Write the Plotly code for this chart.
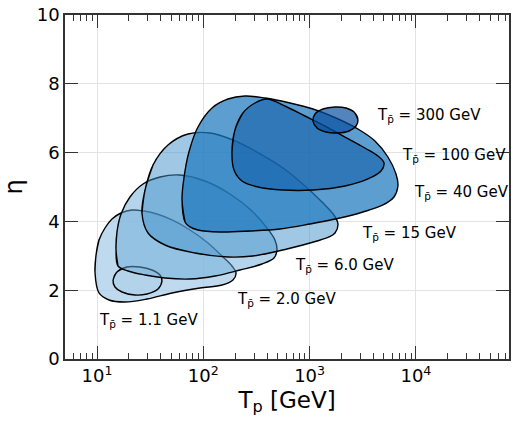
import math
import plotly.graph_objects as go

# ---- contour outlines: log10(T_p / GeV) and eta ----
labels = ["1.1", "2.0", "6.0", "15", "40", "100", "300"]

logT_1p1 = [1.151, 1.188, 1.282, 1.404, 1.517, 1.593, 1.611, 1.574, 1.470, 1.357, 1.235, 1.169]
eta_1p1 = [2.297, 2.529, 2.674, 2.674, 2.587, 2.442, 2.267, 2.035, 1.890, 1.860, 1.948, 2.093]

logT_2 = [0.981, 0.991, 1.019, 1.075, 1.141, 1.226, 1.329, 1.442, 1.564, 1.706, 1.875, 2.044,
          2.176, 2.270, 2.308, 2.279, 2.176, 1.969, 1.706, 1.470, 1.263, 1.113, 1.019]
eta_2 = [2.529, 3.023, 3.459, 3.808, 4.070, 4.244, 4.331, 4.302, 4.215, 4.041, 3.750, 3.372,
         2.994, 2.703, 2.500, 2.297, 2.151, 2.064, 1.919, 1.744, 1.657, 1.715, 1.919]

logT_6 = [1.198, 1.179, 1.188, 1.226, 1.310, 1.433, 1.593, 1.781, 2.016, 2.251, 2.458, 2.599,
          2.674, 2.693, 2.665, 2.552, 2.345, 2.110, 1.875, 1.640, 1.452, 1.292]
eta_6 = [2.703, 3.169, 3.692, 4.215, 4.709, 5.087, 5.291, 5.349, 5.174, 4.797, 4.302, 3.808,
         3.459, 3.169, 2.936, 2.762, 2.587, 2.413, 2.326, 2.355, 2.442, 2.558]

logT_15 = [1.423, 1.452, 1.527, 1.668, 1.856, 2.063, 2.279, 2.505, 2.750, 2.957, 3.117, 3.229,
           3.267, 3.239, 3.182, 3.070, 2.787, 2.467, 2.232, 1.922, 1.640, 1.480]
eta_15 = [4.244, 4.913, 5.640, 6.221, 6.541, 6.570, 6.366, 6.017, 5.552, 5.029, 4.564, 4.186,
          3.924, 3.663, 3.547, 3.430, 3.198, 2.994, 2.965, 3.081, 3.314, 3.663]

logT_40 = [1.828, 1.800, 1.818, 1.865, 1.950, 2.082, 2.232, 2.392, 2.580, 2.816, 3.032, 3.248,
           3.455, 3.615, 3.737, 3.813, 3.831, 3.794, 3.690, 3.502, 3.286, 3.004, 2.721, 2.439,
           2.157, 1.950, 1.870]
eta_40 = [3.983, 4.622, 5.262, 6.017, 6.744, 7.297, 7.558, 7.645, 7.587, 7.442, 7.267, 7.006,
          6.686, 6.337, 5.872, 5.378, 5.029, 4.709, 4.477, 4.273, 4.099, 3.924, 3.779, 3.721,
          3.692, 3.750, 3.850]

logT_100 = [2.270, 2.298, 2.373, 2.486, 2.599, 2.768, 2.957, 3.145, 3.333, 3.521, 3.643, 3.700,
            3.672, 3.549, 3.333, 3.032, 2.750, 2.515, 2.364, 2.289]
eta_100 = [6.017, 6.657, 7.151, 7.442, 7.558, 7.355, 7.064, 6.773, 6.453, 6.134, 5.901, 5.698,
           5.465, 5.233, 5.029, 4.913, 4.913, 5.000, 5.174, 5.494]

logT_300 = [3.455, 3.418, 3.342, 3.239, 3.126, 3.051, 3.032, 3.070, 3.154, 3.258, 3.371, 3.437]
eta_300 = [6.948, 7.180, 7.297, 7.326, 7.267, 7.122, 6.919, 6.715, 6.599, 6.570, 6.628, 6.773]

# label anchor positions (T_p in GeV, eta)
label_T = [10.0, 199, 698, 2980, 9190, 7080, 4120]
label_eta = [1.13, 1.72, 2.73, 3.66, 4.83, 5.93, 7.09]

fills = ["rgba(170,205,232,0.55)", "rgba(170,206,232,0.75)", "rgba(105,170,215,0.5)",
         "rgba(65,145,202,0.5)", "rgba(30,120,190,0.72)", "rgba(20,95,170,0.6)",
         "rgba(10,80,160,0.7)"]

contours = [(logT_2, eta_2, 1), (logT_1p1, eta_1p1, 0), (logT_6, eta_6, 2),
            (logT_15, eta_15, 3), (logT_40, eta_40, 4), (logT_100, eta_100, 5),
            (logT_300, eta_300, 6)]

fig = go.Figure()
for lt, et, k in contours:
    xs = [10 ** v for v in lt]
    xs = xs + xs[:3]
    ys = list(et) + list(et[:3])
    fig.add_trace(go.Scatter(x=xs, y=ys, mode="lines", fill="toself",
                             fillcolor=fills[k],
                             line=dict(color="black", width=1.4, shape="spline", smoothing=1.0),
                             hoverinfo="skip", showlegend=False))

for k, lab in enumerate(labels):
    fig.add_annotation(x=math.log10(label_T[k]), y=label_eta[k],
                       text=f"T<sub>p\u0304</sub> = {lab} GeV", showarrow=False,
                       xanchor="left", yanchor="middle",
                       font=dict(family="DejaVu Sans", size=15, color="black"))

minor_vals = [m * 10 ** e for e in range(0, 5) for m in range(2, 10)]

fig.update_layout(
    width=513, height=428,
    margin=dict(l=65, r=4, t=15, b=69, autoexpand=False),
    paper_bgcolor="white", plot_bgcolor="white",
    font=dict(family="DejaVu Sans", color="black"),
    xaxis=dict(type="log", range=[0.699, 4.876], automargin=False,
               tickvals=[10, 100, 1000, 10000],
               ticktext=["10<sup>1</sup>", "10<sup>2</sup>", "10<sup>3</sup>", "10<sup>4</sup>"],
               tickfont=dict(size=18),
               ticks="inside", ticklen=13, tickwidth=1.3, tickcolor="#333",
               showline=True, linecolor="#333", linewidth=1.6, mirror="ticks",
               showgrid=True, gridcolor="#e3e3e3", gridwidth=1, zeroline=False,
               minor=dict(tickvals=minor_vals, ticks="inside", ticklen=6, tickwidth=1,
                          tickcolor="#333", showgrid=False),
               title=dict(text="T<sub>p</sub> [GeV]", font=dict(size=23), standoff=6)),
    yaxis=dict(range=[0, 10], dtick=2, tickfont=dict(size=18), automargin=False,
               ticks="inside", ticklen=13, tickwidth=1.3, tickcolor="#333",
               showline=True, linecolor="#333", linewidth=1.6, mirror="ticks",
               showgrid=True, gridcolor="#e3e3e3", gridwidth=1, zeroline=False,
               title=dict(text="η", font=dict(size=24), standoff=14)),
)

fig.write_html("out.html", config={"displayModeBar": False},
               post_script="document.body.style.margin='0';document.body.style.overflow='hidden';")
